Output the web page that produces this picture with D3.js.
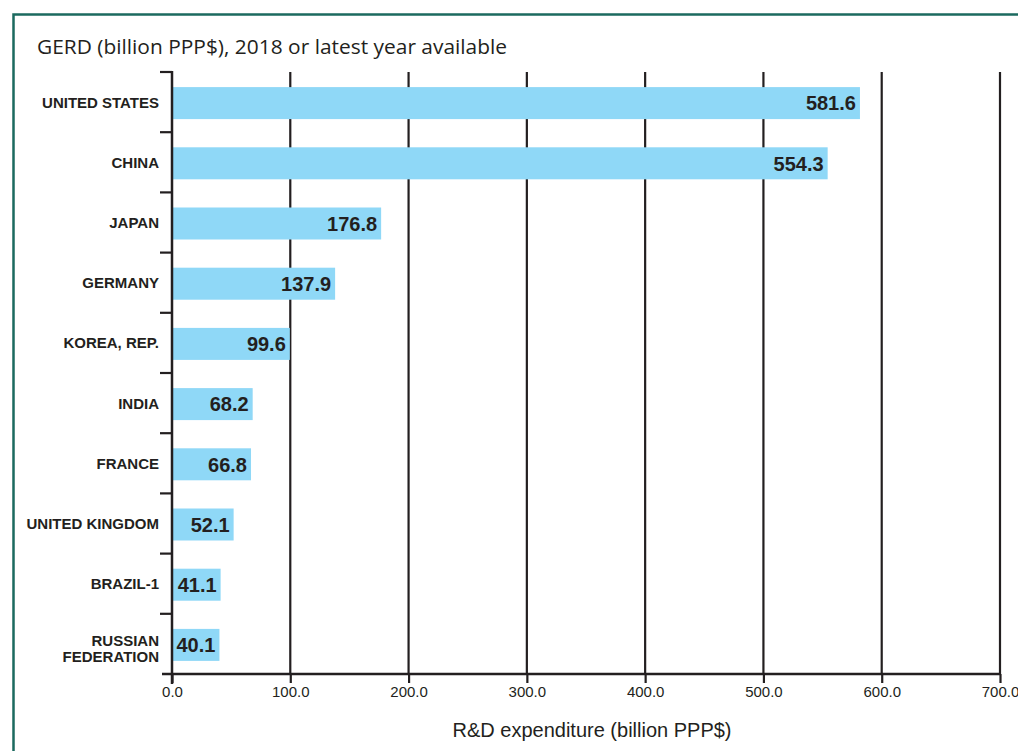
<!DOCTYPE html>
<html>
<head>
<meta charset="utf-8">
<script src="https://cdn.jsdelivr.net/npm/d3@7"></script>
<style>
  body { margin: 0; background: #fff; }
  svg { display: block; }
</style>
</head>
<body>
<div id="chart"></div>
<script>
// data
const countries = ["UNITED STATES", "CHINA", "JAPAN", "GERMANY", "KOREA, REP.",
  "INDIA", "FRANCE", "UNITED KINGDOM", "BRAZIL-1", "RUSSIAN FEDERATION"];
const gerd = [581.6, 554.3, 176.8, 137.9, 99.6, 68.2, 66.8, 52.1, 41.1, 40.1];
const xTicks = [0, 100, 200, 300, 400, 500, 600, 700];

const W = 1018, H = 751;
const margin = { top: 72, right: 18, bottom: 77, left: 172 };
const width = W - margin.left - margin.right,
    height = H - margin.top - margin.bottom;

const ink = "#231f20";
const sans = "'Liberation Sans', Arial, sans-serif";

const svg = d3.select("#chart").append("svg")
    .attr("width", W)
    .attr("height", H);

// teal frame, runs off the right and bottom edge
svg.append("path")
    .attr("d", "M13.5," + H + " V14.5 H" + W)
    .attr("fill", "none")
    .attr("stroke", "#1b6a5f")
    .attr("stroke-width", 2.5);

svg.append("text")
    .attr("x", 37)
    .attr("y", 54)
    .attr("font-family", "'Open Sans', sans-serif")
    .attr("font-size", 20.8)
    .attr("fill", ink)
    .attr("textLength", 470)
    .attr("lengthAdjust", "spacingAndGlyphs")
    .text("GERD (billion PPP$), 2018 or latest year available");

const x = d3.scaleLinear().domain([0, 700]).range([0, 828]);
const y = d3.scaleBand().domain(countries).range([0, height]);

const g = svg.append("g").attr("transform", `translate(${margin.left},${margin.top})`);

// vertical grid lines
g.selectAll("line.grid")
    .data(xTicks.slice(1))
    .join("line")
    .attr("class", "grid")
    .attr("x1", d => x(d)).attr("x2", d => x(d))
    .attr("y1", 0).attr("y2", height)
    .attr("stroke", ink)
    .attr("stroke-width", 2.2);

// bars
const barH = 32;
g.selectAll("rect.bar")
    .data(countries)
    .join("rect")
    .attr("class", "bar")
    .attr("x", 1)
    .attr("y", d => y(d) + (y.bandwidth() - barH) / 2 + 1)
    .attr("width", (d, i) => x(gerd[i]) - 1)
    .attr("height", barH)
    .attr("fill", "#8fd8f7");

// value labels inside bar end
g.selectAll("text.val")
    .data(countries)
    .join("text")
    .attr("class", "val")
    .attr("x", (d, i) => x(gerd[i]) - 4)
    .attr("y", d => y(d) + y.bandwidth() / 2 + 1)
    .attr("dy", "0.36em")
    .attr("text-anchor", "end")
    .attr("font-family", sans)
    .attr("font-weight", "bold")
    .attr("font-size", 20)
    .attr("fill", ink)
    .text((d, i) => gerd[i].toFixed(1));

// left axis: line plus ticks at band edges
const yAxis = g.append("g");
yAxis.append("line")
    .attr("x1", 0).attr("x2", 0)
    .attr("y1", -1).attr("y2", height + 10)
    .attr("stroke", ink).attr("stroke-width", 2.5);
yAxis.selectAll("line.ytick")
    .data(countries)
    .join("line")
    .attr("class", "ytick")
    .attr("x1", -12).attr("x2", 0)
    .attr("y1", d => y(d)).attr("y2", d => y(d))
    .attr("stroke", ink).attr("stroke-width", 2.2);

// category labels
const lab = g.selectAll("text.cat")
    .data(countries)
    .join("text")
    .attr("class", "cat")
    .attr("y", d => y(d) + y.bandwidth() / 2)
    .attr("text-anchor", "end")
    .attr("font-family", sans)
    .attr("font-weight", "bold")
    .attr("font-size", 15)
    .attr("fill", ink);
lab.each(function (d) {
  const t = d3.select(this);
  const parts = d === "RUSSIAN FEDERATION" ? ["RUSSIAN", "FEDERATION"] : [d];
  parts.forEach((p, k) => {
    t.append("tspan")
      .attr("x", -13)
      .attr("dy", k === 0 ? (parts.length === 1 ? "0.36em" : "0.12em") : "1.07em")
      .text(p);
  });
});

// bottom axis
const xAxis = g.append("g").attr("transform", `translate(0,${height})`)
    .call(d3.axisBottom(x).tickValues(xTicks).tickFormat(d3.format(".1f")).tickSize(9).tickSizeOuter(0));
xAxis.select(".domain").remove();
xAxis.append("line")
    .attr("x1", -10).attr("x2", x(700))
    .attr("stroke", ink).attr("stroke-width", 2.5);
xAxis.selectAll(".tick line").attr("stroke", ink).attr("stroke-width", 2.2);
xAxis.selectAll(".tick text")
    .attr("font-family", sans)
    .attr("font-size", 15)
    .attr("fill", ink)
    .attr("dy", "0.75em");

svg.append("text")
    .attr("x", 592)
    .attr("y", 737)
    .attr("text-anchor", "middle")
    .attr("font-family", sans)
    .attr("font-size", 20)
    .attr("fill", ink)
    .text("R&D expenditure (billion PPP$)");
</script>
</body>
</html>
